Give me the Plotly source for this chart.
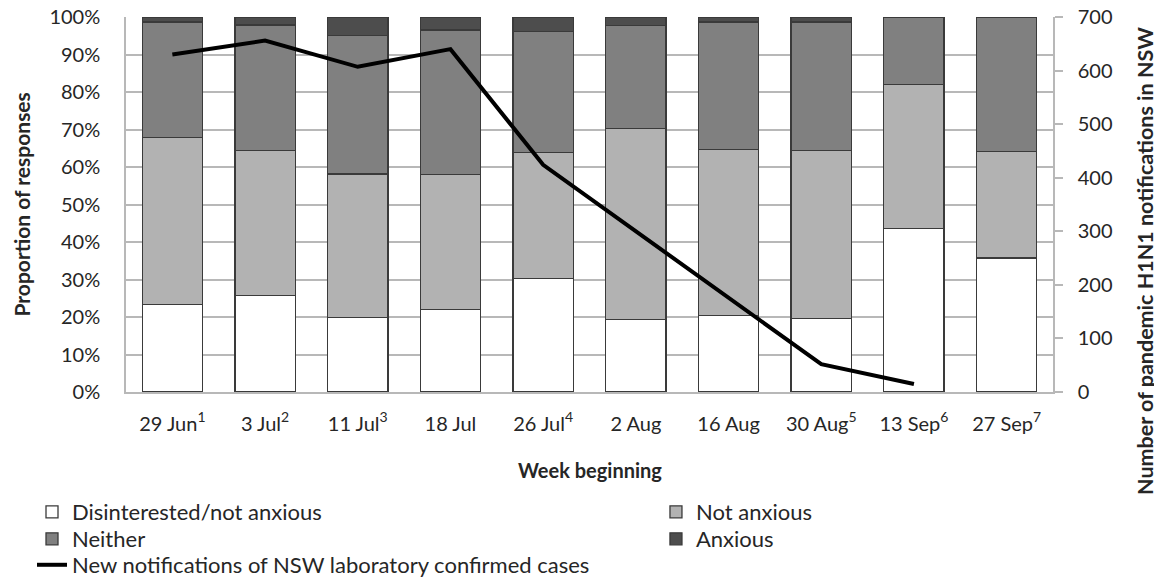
import plotly.graph_objects as go

weeks = ["29 Jun<sup>1</sup>", "3 Jul<sup>2</sup>", "11 Jul<sup>3</sup>", "18 Jul", "26 Jul<sup>4</sup>",
         "2 Aug", "16 Aug", "30 Aug<sup>5</sup>", "13 Sep<sup>6</sup>", "27 Sep<sup>7</sup>"]

disinterested = [23.4, 25.8, 19.9, 22.0, 30.2, 19.3, 20.4, 19.6, 43.6, 35.7]
not_anxious = [44.5, 38.6, 38.2, 36.0, 33.7, 50.9, 44.3, 44.8, 38.4, 28.5]
neither = [30.8, 33.5, 36.9, 38.5, 32.3, 27.6, 34.0, 34.3, 18.0, 35.8]
anxious = [1.3, 2.1, 5.0, 3.5, 3.8, 2.2, 1.3, 1.3, 0.0, 0.0]

notifications = [630, 656, 607, 640, 424, 300, 177, 52, 15]

FONT = "Lato"
TXT = "#262626"
GRID = "#b8b8b8"

fig = go.Figure()
series = [
    ("Disinterested/not anxious", disinterested, "#ffffff", "legend"),
    ("Not anxious", not_anxious, "#b2b2b2", "legend2"),
    ("Neither", neither, "#808080", "legend3"),
    ("Anxious", anxious, "#4d4d4d", "legend4"),
]
for name, vals, col, lg in series:
    fig.add_trace(go.Bar(
        x=weeks, y=vals, name=name, legend=lg,
        marker=dict(color=col, line=dict(color="#3a3a3a", width=1.3)),
    ))

fig.add_trace(go.Scatter(
    x=weeks[:len(notifications)], y=notifications, yaxis="y2", mode="lines",
    name="New notifications of NSW laboratory confirmed cases", legend="legend5",
    line=dict(color="#000000", width=4),
))


def leg(x, y):
    return dict(
        orientation="v", x=x, xanchor="left", y=y, yanchor="middle",
        font=dict(family=FONT, size=22, color=TXT),
        itemwidth=30, bgcolor="rgba(0,0,0,0)", borderwidth=0,
    )


XL, XR = -0.1014, 0.5717
R1, R2, R3 = -0.32, -0.392, -0.4613

fig.update_layout(
    width=1154, height=569,
    margin=dict(l=118, r=109, t=9, b=185, autoexpand=False),
    paper_bgcolor="white", plot_bgcolor="white",
    barmode="stack", bargap=0.35,
    font=dict(family=FONT, size=20, color=TXT),
    showlegend=True,
    legend=leg(XL, R1),
    legend2=leg(XR, R1),
    legend3=leg(XL, R2),
    legend4=leg(XR, R2),
    legend5=leg(XL, R3),
    xaxis=dict(
        showline=True, linecolor=GRID, linewidth=1.5, automargin=False,
        showgrid=False, ticks="", ticklabelstandoff=13,
        tickfont=dict(family=FONT, size=20, color=TXT),
    ),
    yaxis=dict(
        range=[0, 100], dtick=10, ticksuffix="%", automargin=False,
        showgrid=True, gridcolor=GRID, gridwidth=1.5,
        showline=True, linecolor=GRID, linewidth=1.5,
        zeroline=False, ticks="", ticklabelstandoff=20,
        ticklabeloverflow="allow",
        tickfont=dict(family=FONT, size=20, color=TXT),
    ),
    yaxis2=dict(
        overlaying="y", side="right", range=[0, 700], dtick=100, automargin=False,
        showgrid=False, zeroline=False,
        showline=True, linecolor=GRID, linewidth=1.5,
        ticks="outside", ticklen=8, tickcolor=GRID, tickwidth=1.5,
        ticklabelstandoff=11, ticklabeloverflow="allow",
        tickfont=dict(family=FONT, size=20, color=TXT),
    ),
    annotations=[
        dict(text="<b>Proportion of responses</b>", xref="paper", yref="paper",
             x=-0.1122, y=0.5, xanchor="center", yanchor="middle", textangle=-90,
             showarrow=False, font=dict(family=FONT, size=21, color=TXT)),
        dict(text="<b>Week beginning</b>", xref="paper", yref="paper",
             x=0.5, y=-0.208, xanchor="center", yanchor="middle",
             showarrow=False, font=dict(family=FONT, size=20, color=TXT)),
        dict(text="<b>Number of pandemic H1N1 notifications in NSW</b>", xref="paper", yref="paper",
             x=1.099, y=0.349, xanchor="center", yanchor="middle", textangle=-90,
             showarrow=False, font=dict(family=FONT, size=21.5, color=TXT)),
    ],
)

fig.write_html("out.html")
